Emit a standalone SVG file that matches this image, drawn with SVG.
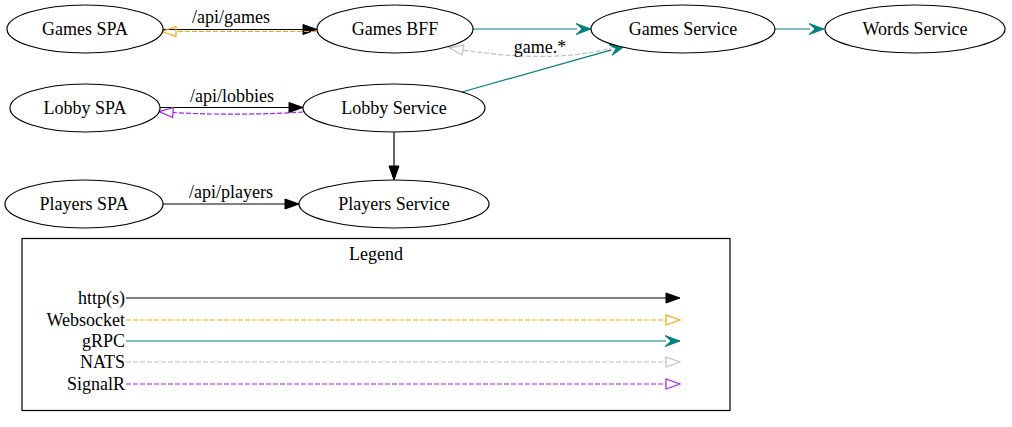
<svg xmlns="http://www.w3.org/2000/svg" width="1012" height="427" viewBox="0 0 1012 427">
<style>
text{fill:#000;font-family:Liberation Serif,Times New Roman,Times,DejaVu Serif,serif;font-size:18px}
.n ellipse{fill:#fff;stroke:#000;stroke-width:1.2}
.c{text-anchor:middle}
.r{text-anchor:end}
.e{fill:none;stroke-width:1.2}
.http{stroke:#000}
.ws{stroke:#FFA500;stroke-dasharray:5,2}
.grpc{stroke:#008080}
.nats{stroke:#C0C0C0;stroke-dasharray:5,2}
.sr{stroke:#A020F0;stroke-dasharray:5,2}
</style>
<defs>
<marker id="aHttp" markerUnits="userSpaceOnUse" markerWidth="16" markerHeight="12" refX="0" refY="5" orient="auto" viewBox="-1 0 16 10"><path d="M0,0 L14,5 L0,10 Z" fill="#000" stroke="#000"/></marker>
<marker id="aWs" markerUnits="userSpaceOnUse" markerWidth="16" markerHeight="12" refX="0" refY="5" orient="auto" viewBox="-1 -1 16 12"><path d="M0,0 L14,5 L0,10 Z" fill="none" stroke="#FFA500" stroke-width="1.2"/></marker>
<marker id="aNats" markerUnits="userSpaceOnUse" markerWidth="16" markerHeight="12" refX="0" refY="5" orient="auto" viewBox="-1 -1 16 12"><path d="M0,0 L14,5 L0,10 Z" fill="none" stroke="#C0C0C0" stroke-width="1.2"/></marker>
<marker id="aSr" markerUnits="userSpaceOnUse" markerWidth="16" markerHeight="12" refX="0" refY="5" orient="auto" viewBox="-1 -1 16 12"><path d="M0,0 L14,5 L0,10 Z" fill="none" stroke="#A020F0" stroke-width="1.2"/></marker>
<marker id="aGrpc" markerUnits="userSpaceOnUse" markerWidth="16" markerHeight="12" refX="0" refY="5" orient="auto" viewBox="-1 -1 16 12"><path d="M-1,-0.5 L14,5 L-1,10.5 L5,5 Z" fill="#008080" stroke="#008080"/></marker>
</defs>

<g id="connectors">
<path class="e http" d="M163,29.5 L303,29.5" marker-end="url(#aHttp)"/>
<path class="e ws" d="M316,31.5 L176,31.5" marker-end="url(#aWs)"/>
<text class="c" x="231" y="23">/api/games</text>
<path class="e grpc" d="M473,29 L577,29" marker-end="url(#aGrpc)"/>
<path class="e grpc" d="M775,29 L810,29" marker-end="url(#aGrpc)"/>
<path class="e nats" d="M614,47 C590,55 540,62 463,50" marker-end="url(#aNats)"/>
<text class="c" x="540" y="53">game.*</text>
<path class="e grpc" d="M462,92 L611.5,49.8" marker-end="url(#aGrpc)"/>
<path class="e http" d="M160,107.5 L289,107.5" marker-end="url(#aHttp)"/>
<text class="c" x="232" y="102">/api/lobbies</text>
<path class="e sr" d="M303,112 C270,114.5 210,115 173,112.5" marker-end="url(#aSr)"/>
<path class="e http" d="M394,132 L394,166" marker-end="url(#aHttp)"/>
<path class="e http" d="M163,204 L285,204" marker-end="url(#aHttp)"/>
<text class="c" x="231" y="198">/api/players</text>
</g>

<g id="games-spa" class="n"><ellipse cx="85" cy="29" rx="78" ry="24"/><text class="c" x="85" y="35">Games SPA</text></g>
<g id="games-bff" class="n"><ellipse cx="395" cy="29" rx="78" ry="24"/><text class="c" x="395" y="35">Games BFF</text></g>
<g id="games-service" class="n"><ellipse cx="683" cy="29" rx="92" ry="24"/><text class="c" x="683" y="35">Games Service</text></g>
<g id="words-service" class="n"><ellipse cx="915" cy="29" rx="90" ry="24"/><text class="c" x="915" y="35">Words Service</text></g>
<g id="lobby-spa" class="n"><ellipse cx="85" cy="108" rx="75" ry="24"/><text class="c" x="85" y="114">Lobby SPA</text></g>
<g id="lobby-service" class="n"><ellipse cx="394" cy="108" rx="91" ry="24"/><text class="c" x="394" y="114">Lobby Service</text></g>
<g id="players-spa" class="n"><ellipse cx="84" cy="204" rx="79" ry="24"/><text class="c" x="84" y="210">Players SPA</text></g>
<g id="players-service" class="n"><ellipse cx="394" cy="204" rx="95" ry="24"/><text class="c" x="394" y="210">Players Service</text></g>

<g id="legend">
<rect x="22" y="238.5" width="708" height="172" fill="none" stroke="#000" stroke-width="1.2"/>
<text class="c" x="376" y="260">Legend</text>
<text class="r" x="125" y="304">http(s)</text>
<text class="r" x="125" y="326">Websocket</text>
<text class="r" x="125" y="347">gRPC</text>
<text class="r" x="125" y="368">NATS</text>
<text class="r" x="125" y="390">SignalR</text>
<path class="e http" d="M126,298 L666,298" marker-end="url(#aHttp)"/>
<path class="e ws" d="M126,320 L666,320" marker-end="url(#aWs)"/>
<path class="e grpc" d="M126,341 L666,341" marker-end="url(#aGrpc)"/>
<path class="e nats" d="M126,362 L666,362" marker-end="url(#aNats)"/>
<path class="e sr" d="M126,384 L666,384" marker-end="url(#aSr)"/>
</g>
</svg>
